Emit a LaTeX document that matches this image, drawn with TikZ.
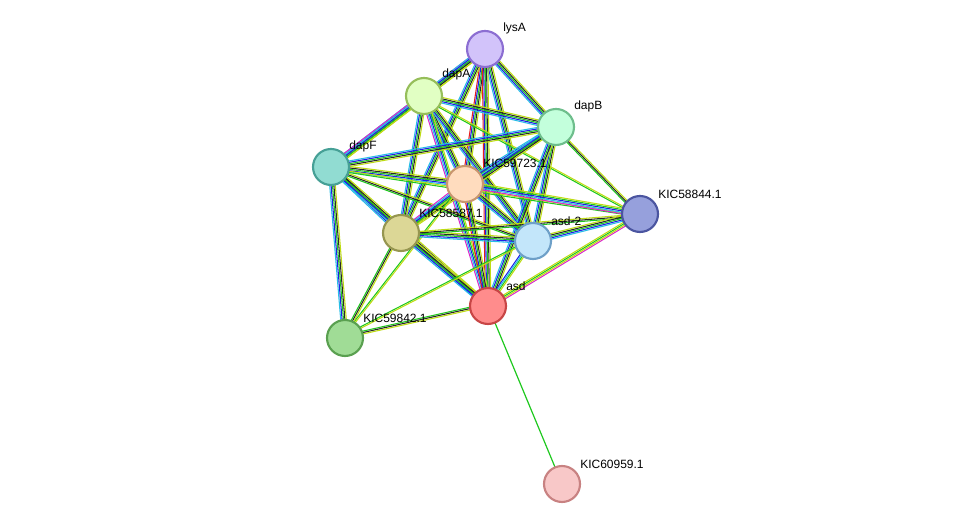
\documentclass[tikz,border=0pt]{standalone}
\usepackage{fontspec}
\setmainfont{Liberation Sans}
\usetikzlibrary{calc}
\definecolor{sg}{RGB}{30,200,30}
\definecolor{sb}{RGB}{30,30,230}
\definecolor{sc}{RGB}{40,190,230}
\definecolor{sy}{RGB}{190,220,20}
\definecolor{sm}{RGB}{220,40,200}
\definecolor{sk}{RGB}{40,40,40}
\definecolor{sr}{RGB}{230,30,30}
\newcommand\edg[3]{\foreach \c [count=\i] in #3{\pgfmathsetmacro\o{(\i-3)*1.05}
 \draw[\c,line width=0.8pt] ($(#1)!\o pt!90:(#2)$) -- ($(#2)!\o pt!-90:(#1)$);}}
\newlength\pxu \setlength\pxu{0.75pt}
\tikzset{prot/.style={circle,minimum size=36\pxu,inner sep=0pt,line width=1.6pt},
 lab/.style={font=\fontsize{9}{10}\selectfont,anchor=south west,inner sep=0pt}}
\begin{document}
\begin{tikzpicture}[x=0.75pt,y=-0.75pt]
\useasboundingbox (0,0) rectangle (975,530);
\coordinate (lysA) at (485,49);
\coordinate (dapA) at (424,96);
\coordinate (dapB) at (556,127);
\coordinate (dapF) at (331,167);
\coordinate (k723) at (465,184);
\coordinate (k844) at (640,214);
\coordinate (k587) at (401,233);
\coordinate (asd2) at (533,241);
\coordinate (asd) at (488,306);
\coordinate (k842) at (345,338);
\coordinate (k959) at (562,484);
\def\A{sc,sb,sg,sk,sy}
\def\B{sm,sc,sb,sg,sy}
\def\R{sr,sb,sg,sk,sy}
\def\G{sg,sy}
\def\K{sg,sk,sy}
\def\D{sb,sc,sg,sy}
\def\M{sm,sy,sg,sy}
\edg{lysA}{dapA}{\B}
\edg{lysA}{dapB}{\A}
\edg{lysA}{dapF}{\A}
\edg{lysA}{k723}{\R}
\edg{lysA}{k587}{\A}
\edg{lysA}{asd2}{\A}
\edg{lysA}{asd}{\R}
\edg{dapA}{dapB}{\A}
\edg{dapA}{dapF}{\B}
\edg{dapA}{k723}{\A}
\edg{dapA}{k587}{\A}
\edg{dapA}{asd2}{\A}
\edg{dapA}{asd}{\B}
\edg{dapA}{k844}{\G}
\edg{dapB}{dapF}{\A}
\edg{dapB}{k723}{\A}
\edg{dapB}{k587}{\A}
\edg{dapB}{asd2}{\A}
\edg{dapB}{asd}{\A}
\edg{dapB}{k844}{\K}
\edg{dapF}{k723}{\A}
\edg{dapF}{k587}{\A}
\edg{dapF}{asd2}{\K}
\edg{dapF}{asd}{\A}
\edg{dapF}{k842}{\A}
\edg{dapF}{k844}{\G}
\edg{k723}{k587}{\B}
\edg{k723}{asd2}{\A}
\edg{k723}{asd}{\R}
\edg{k723}{k844}{\B}
\edg{k723}{k842}{\G}
\edg{k587}{asd2}{\A}
\edg{k587}{asd}{\A}
\edg{k587}{k844}{\K}
\edg{k587}{k842}{\K}
\edg{asd2}{asd}{\D}
\edg{asd2}{k844}{\A}
\edg{asd2}{k842}{\G}
\edg{asd}{k844}{\M}
\edg{asd}{k842}{\K}
\draw[sg,line width=0.9pt] (asd) -- (k959);
\node[prot,draw={rgb,255:red,140;green,110;blue,210},fill={rgb,255:red,210;green,195;blue,250}] (nlysA) at (lysA) {};
\node[prot,draw={rgb,255:red,150;green,190;blue,90},fill={rgb,255:red,225;green,255;blue,195}] (ndapA) at (dapA) {};
\node[prot,draw={rgb,255:red,110;green,190;blue,140},fill={rgb,255:red,195;green,255;blue,220}] (ndapB) at (dapB) {};
\node[prot,draw={rgb,255:red,70;green,160;blue,150},fill={rgb,255:red,145;green,220;blue,210}] (ndapF) at (dapF) {};
\node[prot,draw={rgb,255:red,200;green,150;blue,110},fill={rgb,255:red,255;green,220;blue,190}] (nk723) at (k723) {};
\node[prot,draw={rgb,255:red,75;green,85;blue,160},fill={rgb,255:red,150;green,160;blue,220}] (nk844) at (k844) {};
\node[prot,draw={rgb,255:red,150;green,150;blue,80},fill={rgb,255:red,220;green,215;blue,150}] (nk587) at (k587) {};
\node[prot,draw={rgb,255:red,110;green,160;blue,200},fill={rgb,255:red,195;green,230;blue,250}] (nasd2) at (asd2) {};
\node[prot,draw={rgb,255:red,200;green,70;blue,70},fill={rgb,255:red,255;green,140;blue,140}] (nasd) at (asd) {};
\node[prot,draw={rgb,255:red,90;green,160;blue,80},fill={rgb,255:red,160;green,220;blue,150}] (nk842) at (k842) {};
\node[prot,draw={rgb,255:red,200;green,130;blue,130},fill={rgb,255:red,248;green,200;blue,200}] (nk959) at (k959) {};
\node[lab] at (503,34) {lysA};
\node[lab] at (442,80) {dapA};
\node[lab] at (574,112) {dapB};
\node[lab] at (349,152) {dapF};
\node[lab] at (483,168) {KIC59723.1};
\node[lab] at (658,199) {KIC58844.1};
\node[lab] at (419,218) {KIC58587.1};
\node[lab] at (551,226) {asd-2};
\node[lab] at (506,291) {asd};
\node[lab] at (363,323) {KIC59842.1};
\node[lab] at (580,469) {KIC60959.1};
\end{tikzpicture}
\end{document}
